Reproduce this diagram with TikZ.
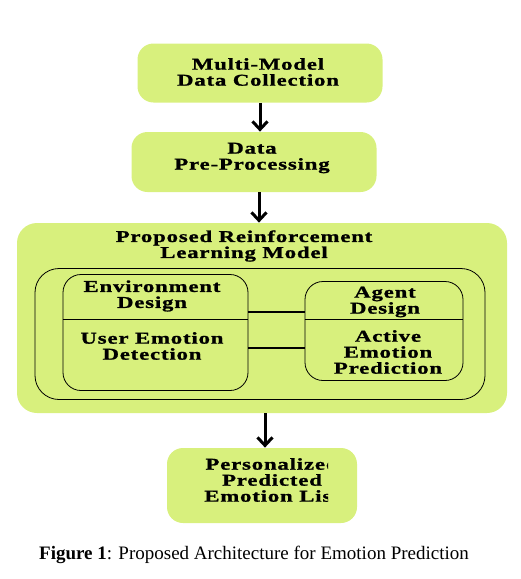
\documentclass[tikz,border=0pt]{standalone}
\usepackage{fontspec}
\setmainfont{Liberation Serif}
\newfontfamily\boxfont{Liberation Serif}[FakeStretch=1.38,LetterSpace=5,FakeBold=1.2]
\usetikzlibrary{arrows.meta}
\definecolor{boxgreen}{RGB}{216,240,125}

\begin{document}
\begin{tikzpicture}[x=1pt,y=-1pt,thick,
	box/.style={fill=boxgreen,rounded corners=16pt},
	frame/.style={draw,rounded corners=18pt},
	txt/.style={align=center,font=\boxfont\bfseries\fontsize{16.5}{16}\selectfont,inner sep=0pt},
	arr/.style={line width=3pt,-{Straight Barb[length=8pt,width=15pt]}}]
	\useasboundingbox (0,0) rectangle (521,579);
	% top boxes
	\node [box,minimum width=245pt,minimum height=59pt] (collect) at (260,73) {};
	\node [txt] (collecttxt) at (258,72) {Multi-Model\\Data Collection};
	\node [box,minimum width=245pt,minimum height=60pt] (prep) at (254,162) {};
	\node [txt] (preptxt) at (252,158) {Data\\Pre-Processing};
	% model
	\node [box,rounded corners=20pt,minimum width=490pt,minimum height=190pt] (model) at (262,318) {};
	\node [txt] (modeltxt) at (244,246) {Proposed Reinforcement\\Learning Model};
	\node [frame,rounded corners=24pt,minimum width=450pt,minimum height=131pt] (inner) at (260,334) {};
	\node [frame,minimum width=185pt,minimum height=116pt] (env) at (155.5,332.5) {};
	\draw (env.west |- 0,319) -- (env.east |- 0,319);
	\node [txt] (envtxt) at (152,296) {Environment\\Design};
	\node [txt] (detecttxt) at (152,346) {User Emotion\\Detection};
	\node [frame,minimum width=158pt,minimum height=99pt] (agent) at (384,331) {};
	\draw (agent.west |- 0,319) -- (agent.east |- 0,319);
	\node [txt] (agenttxt) at (385,302) {Agent\\Design};
	\node [txt] (predtxt) at (388,352) {Active\\Emotion\\Prediction};
	\coordinate (l1) at (276,312);
	\coordinate (l2) at (276,348);
	\draw [line width=2.2pt] (env.east |- l1) -- (agent.west |- l1);
	\draw [line width=2.2pt] (env.east |- l2) -- (agent.west |- l2);
	% output
	\node [box,minimum width=190pt,minimum height=75pt] (out) at (262,485.5) {};
	\begin{scope}
		\clip (160,440) rectangle (328,530);
		\node [txt] (outtxt) at (272,480) {Personalized\\Predicted\\Emotion List};
	\end{scope}
	% arrows
	\draw [arr] (collect.south -| 260,0) -- (prep.north -| 260,0);
	\draw [arr] (prep.south -| 259,0) -- (model.north -| 259,0);
	\draw [arr] (model.south -| 265,0) -- (out.north -| 265,0);
	\node [font=\fontsize{19}{22}\selectfont,inner sep=0pt] (caption) at (254,555) {\textbf{Figure 1}: Proposed Architecture for Emotion Prediction};
\end{tikzpicture}
\end{document}
